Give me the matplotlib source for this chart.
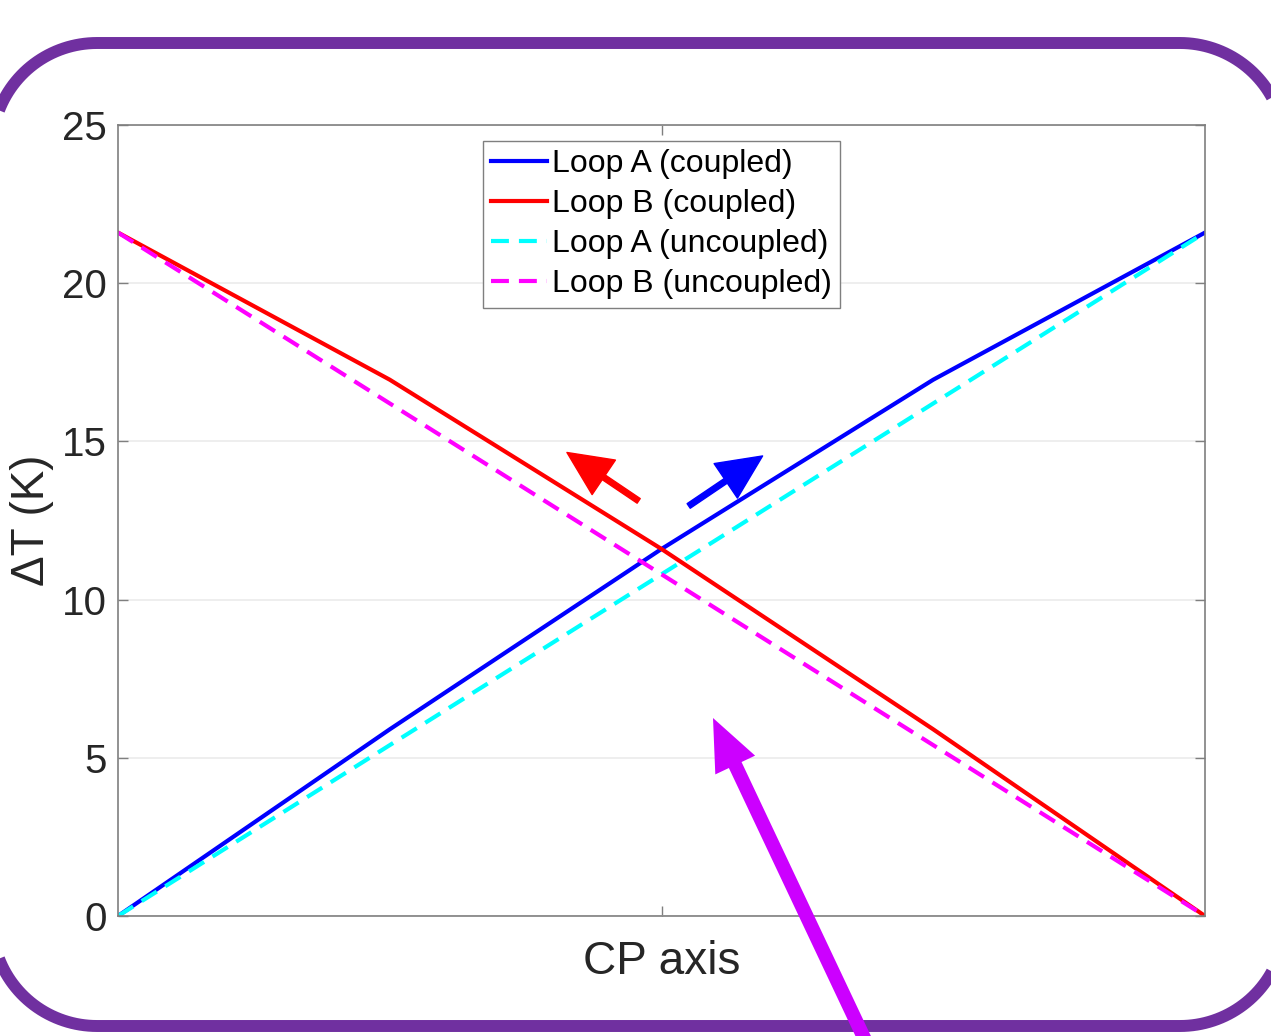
import numpy as np
import matplotlib
matplotlib.use('Agg')
import matplotlib.pyplot as plt
from matplotlib.patches import FancyArrow, Polygon

plt.rcParams['font.family'] = ['Liberation Sans', 'DejaVu Sans']

# data (position along CP axis, 0..1)
x_pos = [0.0, 0.25, 0.5, 0.75, 1.0]
loop_a_coupled = [0.0, 5.9, 11.6, 16.95, 21.6]
loop_b_coupled = [21.6, 16.95, 11.6, 5.9, 0.0]
x_unc = [0.0, 1.0]
loop_a_uncoupled = [0.0, 21.6]
loop_b_uncoupled = [21.6, 0.0]
y_ticks = [0, 5, 10, 15, 20, 25]

fig = plt.figure(figsize=(12.71, 10.36), dpi=100)
ax = fig.add_axes([118 / 1271, 1 - 916 / 1036, (1205 - 118) / 1271, (916 - 125) / 1036])

dash = (0, (4.3, 2.4))
ax.plot(x_pos, loop_a_coupled, color='#0000ff', lw=3, label='Loop A (coupled)')
ax.plot(x_pos, loop_b_coupled, color='#ff0000', lw=3, label='Loop B (coupled)')
ax.plot(x_unc, loop_a_uncoupled, color='#00ffff', lw=3, ls=dash, label='Loop A (uncoupled)')
ax.plot(x_unc, loop_b_uncoupled, color='#ff00ff', lw=3, ls=dash, label='Loop B (uncoupled)')

ax.set_xlim(0, 1)
ax.set_ylim(0, 25)
ax.set_yticks(y_ticks)
ax.set_xticks([0.5])
ax.set_xticklabels([''])
ax.grid(axis='y', color='#ebebeb', lw=1.2)
ax.set_axisbelow(True)
ax.tick_params(direction='in', length=7, width=1, colors='#7f7f7f', labelcolor='#262626',
               labelsize=29, pad=8, top=True, right=True)
for s in ax.spines.values():
    s.set_color('#7f7f7f')
    s.set_linewidth(1.2)

ax.set_xlabel('CP axis', fontsize=33, color='#262626', labelpad=9)
ax.set_ylabel('ΔT (K)', fontsize=33, color='#262626', labelpad=6)

leg = ax.legend(loc='upper center', bbox_to_anchor=(0.5, 0.98), fontsize=23,
                fancybox=False, edgecolor='#7f7f7f', framealpha=1,
                handlelength=1.75, handletextpad=0.15, labelspacing=0.31,
                borderpad=0.27, borderaxespad=0)
leg.get_frame().set_linewidth(1)
for t in leg.get_texts():
    t.set_color('black')

# red / blue direction arrows
ax.annotate('', xy=(0.413, 14.65), xytext=(0.479, 13.12),
            arrowprops=dict(arrowstyle='simple,head_length=1.6,head_width=1.5,tail_width=0.2',
                            color='#ff0000', mutation_scale=20, shrinkA=0, shrinkB=0))
ax.annotate('', xy=(0.593, 14.54), xytext=(0.525, 12.96),
            arrowprops=dict(arrowstyle='simple,head_length=1.6,head_width=1.5,tail_width=0.2',
                            color='#0000ff', mutation_scale=20, shrinkA=0, shrinkB=0))

# overlay in pixel units for the frame and the big arrow
ov = fig.add_axes([0, 0, 1, 1], zorder=5)
ov.set_xlim(0, 1271)
ov.set_ylim(0, 1036)
ov.axis('off')
ov.patch.set_alpha(0)


def rounded_rect(x0, y0, x1, y1, r, n=40):
    pts = []
    corners = [(x1 - r, y1 - r, 0), (x0 + r, y1 - r, 90), (x0 + r, y0 + r, 180), (x1 - r, y0 + r, 270)]
    for cx, cy, a0 in corners:
        a = np.radians(np.linspace(a0, a0 + 90, n))
        pts.append(np.column_stack([cx + r * np.cos(a), cy + r * np.sin(a)]))
    return np.vstack(pts)


frame = Polygon(rounded_rect(-8, 10, 1285, 993, 105), closed=True, fill=False,
                edgecolor='#7030a0', lw=8.6, joinstyle='round')
ov.add_patch(frame)

ov.add_patch(FancyArrow(866, -6, 713 - 866, 318 + 6, width=14, head_width=44,
                        head_length=52, length_includes_head=True,
                        color='#cc00ff', lw=0))

fig.savefig('out.png', dpi=100)
